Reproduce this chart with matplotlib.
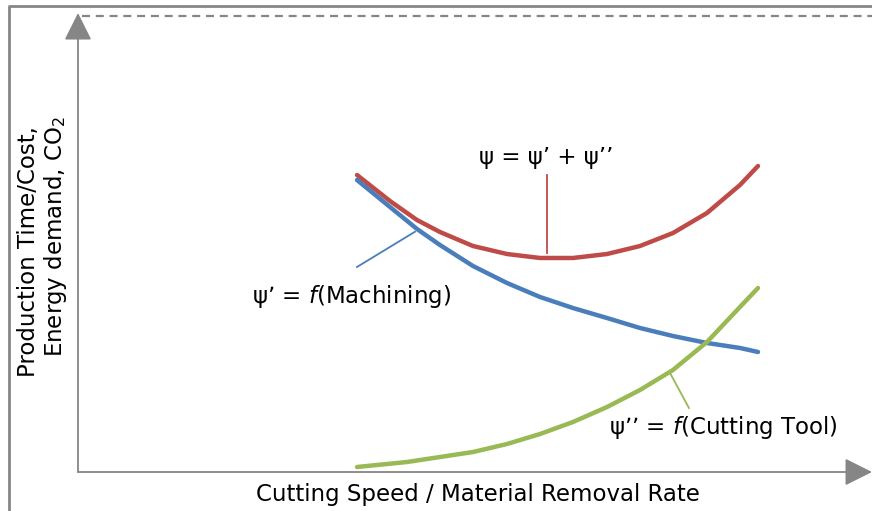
import matplotlib
matplotlib.use('Agg')
import matplotlib.pyplot as plt

plt.rcParams['font.family'] = ['DejaVu Sans']
plt.rcParams['mathtext.fontset'] = 'dejavusans'

# Curve samples (x: cutting speed, y: time/cost)
x_machining = [35.77, 40.0, 43.46, 46.41, 50.64, 55.0, 59.23, 63.46, 67.82, 72.05, 76.28, 80.64, 84.87, 87.18]
y_machining = [64.89, 58.89, 54.0, 50.44, 45.78, 42.0, 38.89, 36.44, 34.22, 32.0, 30.22, 28.67, 27.56, 26.67]

x_total = [35.77, 40.0, 43.46, 46.41, 50.64, 55.0, 59.23, 63.46, 67.82, 72.05, 76.28, 80.64, 84.87, 87.18]
y_total = [66.0, 60.22, 56.0, 53.33, 50.22, 48.44, 47.56, 47.56, 48.44, 50.22, 53.11, 57.56, 63.78, 68.0]

x_tool = [35.77, 42.18, 46.41, 50.64, 55.0, 59.23, 63.46, 67.82, 72.05, 76.28, 80.64, 84.87, 87.18]
y_tool = [1.11, 2.22, 3.33, 4.44, 6.22, 8.44, 11.11, 14.44, 18.22, 22.67, 28.89, 36.67, 40.89]

blue = '#4a7ebb'
red = '#be4b48'
green = '#98b954'
grey = '#868686'

fig = plt.figure(figsize=(8.72, 5.11), dpi=100)
ax = fig.add_axes([0, 0, 1, 1])
# origin at pixel (78, 472); 7.8 px per x unit, 4.5 px per y unit
ax.set_xlim(-78 / 7.8, (872 - 78) / 7.8)
ax.set_ylim(-(511 - 472) / 4.5, 472 / 4.5)
ax.axis('off')

# outer frame (cut by the picture edge) and dashed top guide
ax.plot([-8.9, -8.9, 110], [-20, 103.6, 103.6], color=grey, lw=2.0, clip_on=False)
ax.plot([0.5, 102], [101.3, 101.3], color=grey, lw=1.6, dashes=(3.6, 2.6))

# axes arrows
arrow = dict(arrowstyle='-|>,head_length=1.7,head_width=0.85', color=grey, lw=1.3,
             shrinkA=0, shrinkB=0)
ax.annotate('', xy=(0, 102.0), xytext=(0, 0), arrowprops=arrow)
ax.annotate('', xy=(101.8, 0), xytext=(0, 0), arrowprops=arrow)

# curves
ax.plot(x_total, y_total, color=red, lw=3.2, solid_capstyle='round', solid_joinstyle='round')
ax.plot(x_machining, y_machining, color=blue, lw=3.2, solid_capstyle='round', solid_joinstyle='round')
ax.plot(x_tool, y_tool, color=green, lw=3.2, solid_capstyle='round', solid_joinstyle='round')

# leader lines to the labels
ax.plot([60.13, 60.13], [66.0, 48.67], color=red, lw=1.3)
ax.plot([43.21, 35.77], [53.4, 45.56], color=blue, lw=1.3)
ax.plot([75.9, 78.33], [22.0, 14.22], color=green, lw=1.3)

fs = 16.5
ax.text(60.0, 69.8, 'ψ = ψ\u2019 + ψ\u2019\u2019', ha='center', va='center', fontsize=fs)
ax.text(35.1, 38.9, 'ψ\u2019 = $\\it{f}$(Machining)', ha='center', va='center', fontsize=fs)
ax.text(82.7, 9.8, 'ψ\u2019\u2019 = $\\it{f}$(Cutting Tool)', ha='center', va='center', fontsize=fs)

ax.text(51.3, -4.9, 'Cutting Speed / Material Removal Rate', ha='center', va='center', fontsize=fs)
ax.text(-6.4, 48.9, 'Production Time/Cost,', ha='center', va='center', rotation=90, fontsize=fs)
ax.text(-2.9, 52.4, 'Energy demand, CO$_2$', ha='center', va='center', rotation=90, fontsize=fs)

fig.savefig('out.png', dpi=100)
